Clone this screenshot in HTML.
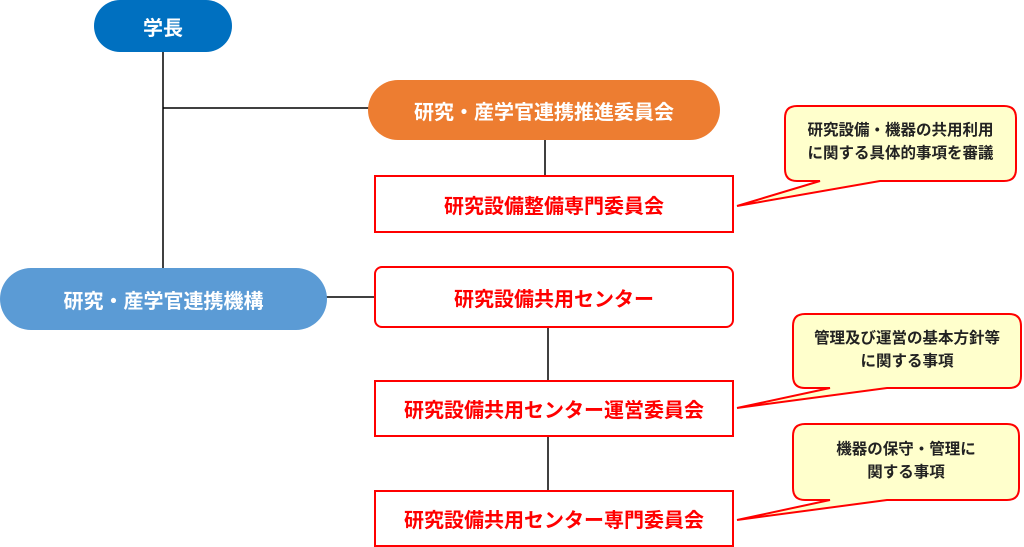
<!DOCTYPE html>
<html><head><meta charset="utf-8"><style>
body{margin:0;width:1024px;height:547px;background:#fff;overflow:hidden;position:relative;font-family:"Liberation Sans","Noto Sans CJK JP",sans-serif;font-weight:bold}
.a{position:absolute;display:flex;align-items:center;justify-content:center;box-sizing:border-box;text-align:center}
.pill{border-radius:31px;color:#fff;font-size:20px}
.box{border:2px solid #f00;color:#f00;font-size:20px;background:#fff}
.c{color:#222;font-size:15.5px;line-height:23px}
</style></head><body>
<svg width="1024" height="547" style="position:absolute;left:0;top:0">
<g stroke="#000" stroke-width="1.5">
<line x1="163" y1="50" x2="163" y2="270"/>
<line x1="163" y1="108" x2="370" y2="108"/>
<line x1="545" y1="140" x2="545" y2="176"/>
<line x1="326" y1="297" x2="375" y2="297"/>
<line x1="548" y1="328" x2="548" y2="381"/>
<line x1="548" y1="436" x2="548" y2="491"/>
</g>
<g fill="#ffffcc" stroke="#f00" stroke-width="2">
<path d="M797,106 H1004 Q1016,106 1016,118 V169 Q1016,181 1004,181 H880 L737,206 L820,181 H797 Q785,181 785,169 V118 Q785,106 797,106 Z"/>
<path d="M805,314 H1009 Q1021,314 1021,326 V376 Q1021,388 1009,388 H887 L737,408 L830,388 H805 Q793,388 793,376 V326 Q793,314 805,314 Z"/>
<path d="M805,424 H1007 Q1019,424 1019,436 V488 Q1019,500 1007,500 H887 L737,520 L830,500 H805 Q793,500 793,488 V436 Q793,424 805,424 Z"/>
</g>
</svg>
<div class="a pill" style="left:94px;top:0;width:138px;height:52px;background:#0070c0;border-radius:26px">学長</div>
<div class="a pill" style="left:368px;top:80px;width:352px;height:60px;background:#ed7d31;border-radius:30px">研究・産学官連携推進委員会</div>
<div class="a pill" style="left:0;top:268px;width:327px;height:62px;background:#5b9bd5">研究・産学官連携機構</div>
<div class="a box" style="left:374px;top:175px;width:360px;height:58px">研究設備整備専門委員会</div>
<div class="a box" style="left:374px;top:266px;width:360px;height:62px;border-radius:8px">研究設備共用センター</div>
<div class="a box" style="left:374px;top:380px;width:360px;height:57px">研究設備共用センター運営委員会</div>
<div class="a box" style="left:374px;top:490px;width:360px;height:57px">研究設備共用センター専門委員会</div>
<div class="a c" style="left:785px;top:117px;width:231px;height:50px">研究設備・機器の共用利用<br>に関する具体的事項を審議</div>
<div class="a c" style="left:793px;top:326px;width:228px;height:48px">管理及び運営の基本方針等<br>に関する事項</div>
<div class="a c" style="left:793px;top:437px;width:226px;height:48px">機器の保守・管理に<br>関する事項</div>
</body></html>
